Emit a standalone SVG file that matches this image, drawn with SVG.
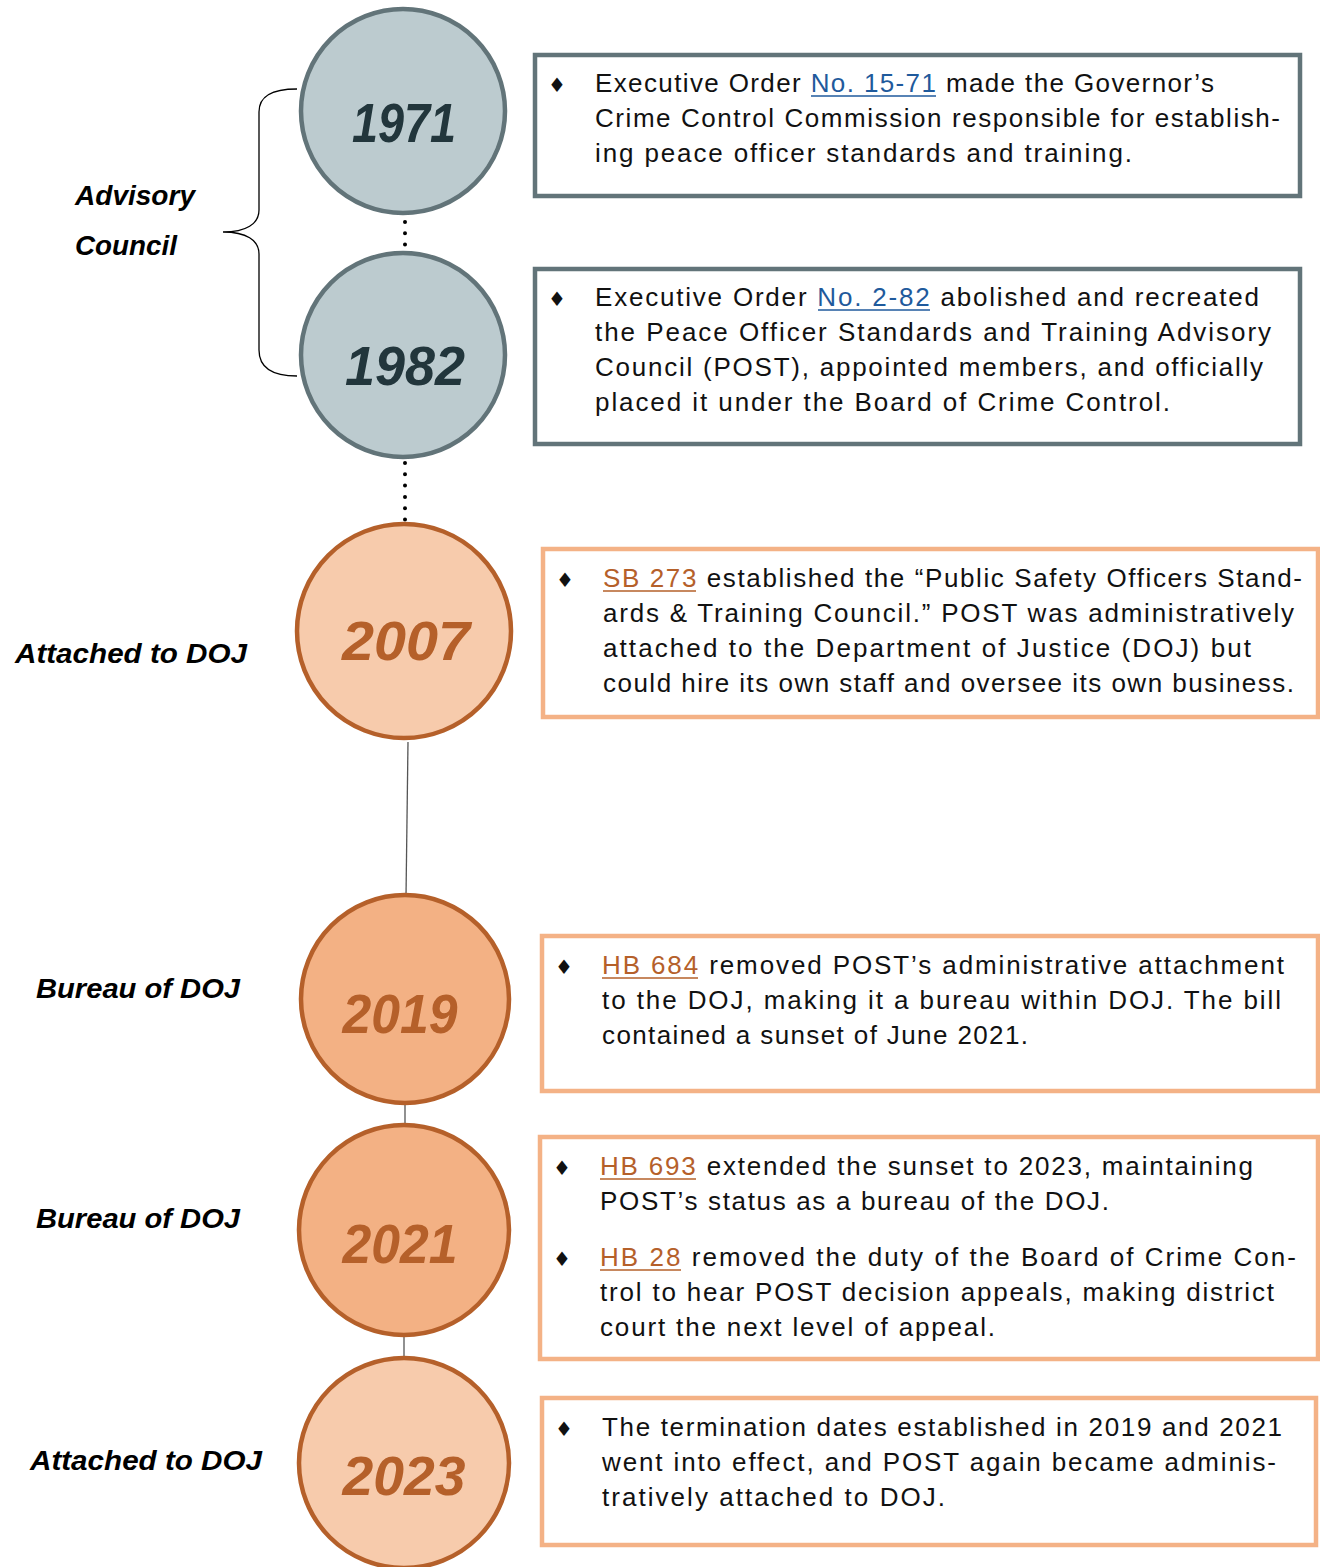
<svg xmlns="http://www.w3.org/2000/svg" width="1320" height="1567" viewBox="0 0 1320 1567">
<style>
.body{font-family:"Liberation Sans","DejaVu Sans",sans-serif;font-size:26px;fill:#111;}
.bul{font-family:"DejaVu Sans",sans-serif;font-size:20px;fill:#111;}
.lbl{font-family:"Liberation Sans","DejaVu Sans",sans-serif;font-size:28px;font-weight:bold;font-style:italic;fill:#000;}
.yr{font-family:"Liberation Sans","DejaVu Sans",sans-serif;font-size:56px;font-weight:bold;font-style:italic;text-anchor:middle;}
.yg{fill:#22363c;}
.yo{fill:#b5602a;}
.cg{fill:#bccbcf;stroke:#627479;stroke-width:4.5;}
.cl{fill:#f7cbac;stroke:#b5602a;stroke-width:4.5;}
.cd{fill:#f3b184;stroke:#b5602a;stroke-width:4.5;}
.bg{fill:#fff;stroke:#627479;stroke-width:4.5;}
.bo{fill:#fff;stroke:#f4b286;stroke-width:4.5;}
.lb{fill:#1f5a9c;}
.lo{fill:#b5602a;}
.ub{stroke:#1f5a9c;stroke-width:1.6;}
.uo{stroke:#b5602a;stroke-width:1.6;}
.dot{stroke:#000;stroke-width:4;stroke-linecap:round;stroke-dasharray:0 11.3;fill:none;}
.ln{stroke:#555;stroke-width:1.3;fill:none;}
</style>

<g id="connectors">
  <line class="dot" x1="405" y1="222" x2="405" y2="246"/>
  <line class="dot" x1="405" y1="463" x2="405" y2="520"/>
  <line class="ln" x1="408" y1="742" x2="406" y2="897"/>
  <line class="ln" x1="405" y1="1103" x2="405" y2="1125"/>
  <line class="ln" x1="404" y1="1337" x2="404" y2="1358"/>
  <path id="brace" d="M297,89 C270,89 259,97 259,112 L259,210 C259,224 246,232 223,232 C246,232 259,240 259,254 L259,350 C259,366 270,376 297,376" fill="none" stroke="#000" stroke-width="1.3"/>
</g>

<g id="label-advisory">
  <text class="lbl" x="75" y="205" textLength="120" lengthAdjust="spacingAndGlyphs">Advisory</text>
  <text class="lbl" x="75" y="255" textLength="102" lengthAdjust="spacingAndGlyphs">Council</text>
</g>
<g id="label-2007"><text class="lbl" x="15" y="663" textLength="232" lengthAdjust="spacingAndGlyphs">Attached to DOJ</text></g>
<g id="label-2019"><text class="lbl" x="36" y="998" textLength="204" lengthAdjust="spacingAndGlyphs">Bureau of DOJ</text></g>
<g id="label-2021"><text class="lbl" x="36" y="1228" textLength="204" lengthAdjust="spacingAndGlyphs">Bureau of DOJ</text></g>
<g id="label-2023"><text class="lbl" x="30" y="1470" textLength="232" lengthAdjust="spacingAndGlyphs">Attached to DOJ</text></g>

<g id="node-1971">
  <circle class="cg" cx="403" cy="111" r="102"/>
  <text class="yr yg" x="404" y="142" textLength="104" lengthAdjust="spacingAndGlyphs">1971</text>
</g>
<g id="node-1982">
  <circle class="cg" cx="403" cy="355" r="102"/>
  <text class="yr yg" x="405" y="385" textLength="120" lengthAdjust="spacingAndGlyphs">1982</text>
</g>
<g id="node-2007">
  <circle class="cl" cx="404" cy="631" r="107"/>
  <text class="yr yo" x="406" y="660" textLength="128" lengthAdjust="spacingAndGlyphs">2007</text>
</g>
<g id="node-2019">
  <circle class="cd" cx="405" cy="999" r="104"/>
  <text class="yr yo" x="400" y="1033" textLength="115" lengthAdjust="spacingAndGlyphs">2019</text>
</g>
<g id="node-2021">
  <circle class="cd" cx="404" cy="1230" r="105"/>
  <text class="yr yo" x="400" y="1263" textLength="115" lengthAdjust="spacingAndGlyphs">2021</text>
</g>
<g id="node-2023">
  <circle class="cl" cx="404" cy="1463" r="105"/>
  <text class="yr yo" x="404" y="1495" textLength="123" lengthAdjust="spacingAndGlyphs">2023</text>
</g>

<g id="box-1971">
  <rect class="bg" x="535" y="55" width="765" height="141"/>
  <text class="bul" x="548" y="92">♦</text>
  <text class="body" x="595" y="92" textLength="619" lengthAdjust="spacing">Executive Order <tspan class="lb">No. 15-71</tspan> made the Governor’s</text>
  <line class="ub" x1="811" y1="96" x2="936" y2="96"/>
  <text class="body" x="595" y="127" textLength="685" lengthAdjust="spacing">Crime Control Commission responsible for establish-</text>
  <text class="body" x="595" y="162" textLength="537" lengthAdjust="spacing">ing peace officer standards and training.</text>
</g>
<g id="box-1982">
  <rect class="bg" x="535" y="269" width="765" height="175"/>
  <text class="bul" x="548" y="306">♦</text>
  <text class="body" x="595" y="306" textLength="664" lengthAdjust="spacing">Executive Order <tspan class="lb">No. 2-82</tspan> abolished and recreated</text>
  <line class="ub" x1="818" y1="310" x2="930" y2="310"/>
  <text class="body" x="595" y="341" textLength="676" lengthAdjust="spacing">the Peace Officer Standards and Training Advisory</text>
  <text class="body" x="595" y="376" textLength="668" lengthAdjust="spacing">Council (POST), appointed members, and officially</text>
  <text class="body" x="595" y="411" textLength="575" lengthAdjust="spacing">placed it under the Board of Crime Control.</text>
</g>
<g id="box-2007">
  <rect class="bo" x="543" y="549" width="775" height="168"/>
  <text class="bul" x="556" y="587">♦</text>
  <text class="body" x="603" y="587" textLength="699" lengthAdjust="spacing"><tspan class="lo">SB 273</tspan> established the “Public Safety Officers Stand-</text>
  <line class="uo" x1="603" y1="591" x2="696" y2="591"/>
  <text class="body" x="603" y="622" textLength="691" lengthAdjust="spacing">ards &amp; Training Council.” POST was administratively</text>
  <text class="body" x="603" y="657" textLength="648" lengthAdjust="spacing">attached to the Department of Justice (DOJ) but</text>
  <text class="body" x="603" y="692" textLength="691" lengthAdjust="spacing">could hire its own staff and oversee its own business.</text>
</g>
<g id="box-2019">
  <rect class="bo" x="542" y="936" width="776" height="155"/>
  <text class="bul" x="555" y="974">♦</text>
  <text class="body" x="602" y="974" textLength="682" lengthAdjust="spacing"><tspan class="lo">HB 684</tspan> removed POST’s administrative attachment</text>
  <line class="uo" x1="602" y1="978" x2="698" y2="978"/>
  <text class="body" x="602" y="1009" textLength="679" lengthAdjust="spacing">to the DOJ, making it a bureau within DOJ. The bill</text>
  <text class="body" x="602" y="1044" textLength="426" lengthAdjust="spacing">contained a sunset of June 2021.</text>
</g>
<g id="box-2021">
  <rect class="bo" x="540" y="1137" width="778" height="222"/>
  <text class="bul" x="553" y="1175">♦</text>
  <text class="body" x="600" y="1175" textLength="653" lengthAdjust="spacing"><tspan class="lo">HB 693</tspan> extended the sunset to 2023, maintaining</text>
  <line class="uo" x1="600" y1="1179" x2="696" y2="1179"/>
  <text class="body" x="600" y="1210" textLength="509" lengthAdjust="spacing">POST’s status as a bureau of the DOJ.</text>
  <text class="bul" x="553" y="1266">♦</text>
  <text class="body" x="600" y="1266" textLength="696" lengthAdjust="spacing"><tspan class="lo">HB 28</tspan> removed the duty of the Board of Crime Con-</text>
  <line class="uo" x1="600" y1="1270" x2="681" y2="1270"/>
  <text class="body" x="600" y="1301" textLength="674" lengthAdjust="spacing">trol to hear POST decision appeals, making district</text>
  <text class="body" x="600" y="1336" textLength="395" lengthAdjust="spacing">court the next level of appeal.</text>
</g>
<g id="box-2023">
  <rect class="bo" x="542" y="1398" width="774" height="147"/>
  <text class="bul" x="555" y="1436">♦</text>
  <text class="body" x="602" y="1436" textLength="680" lengthAdjust="spacing">The termination dates established in 2019 and 2021</text>
  <text class="body" x="602" y="1471" textLength="674" lengthAdjust="spacing">went into effect, and POST again became adminis-</text>
  <text class="body" x="602" y="1506" textLength="343" lengthAdjust="spacing">tratively attached to DOJ.</text>
</g>
</svg>
